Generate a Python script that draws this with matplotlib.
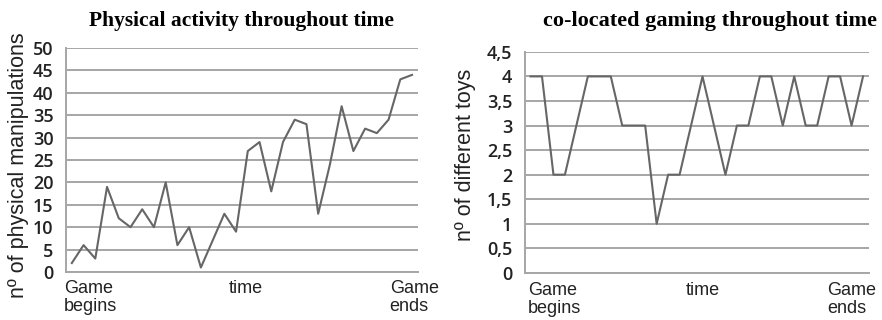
import matplotlib
matplotlib.use("Agg")
import matplotlib.pyplot as plt
import numpy as np

# manipulations per time step
manipulations = [2, 6, 3, 19, 12, 10, 14, 10, 20, 6, 10, 1, 7, 13, 9,
                 27, 29, 18, 29, 34, 33, 13, 24, 37, 27, 32, 31, 34, 43, 44]
# number of different toys per time step (right chart)
toys = [4, 4, 2, 2, 3, 4, 4, 4, 3, 3, 3, 1, 2, 2, 3,
        4, 3, 2, 3, 3, 4, 4, 3, 4, 3, 3, 4, 4, 3, 4]

left_ticks = [0, 5, 10, 15, 20, 25, 30, 35, 40, 45, 50]
right_ticks = [0, 0.5, 1, 1.5, 2, 2.5, 3, 3.5, 4, 4.5]

titles = ["Physical activity throughout time", "co-located gaming throughout time"]
ylabels = ["nº of physical manipulations", "nº of different toys"]

grid_col = "#a6a6a6"
line_col = "#666666"
tick_font = "Open Sans"
txt_font = "Liberation Sans"


def style_axes(ax, ticks, labels):
    ax.set_yticks(ticks)
    ax.set_yticklabels(labels, fontfamily=tick_font, fontsize=13,
                       fontweight="semibold", color="#222222")
    ax.set_ylim(ticks[0], ticks[-1])
    ax.set_xticks([])
    ax.tick_params(axis="y", length=0, pad=9)
    ax.grid(axis="y", color=grid_col, linewidth=1.4)
    ax.set_axisbelow(True)
    for s in ["top", "right"]:
        ax.spines[s].set_visible(False)
    for s in ["left", "bottom"]:
        ax.spines[s].set_color(grid_col)
        ax.spines[s].set_linewidth(1.4)


def x_texts(ax, begin_x, time_x, end_x, off):
    kw = dict(transform=ax.transAxes, va="top", fontfamily=txt_font,
              fontsize=13, linespacing=1.1, color="#222222")
    ax.text(begin_x, off, "Game\nbegins", ha="left", **kw)
    ax.text(time_x, off, "time", ha="center", **kw)
    ax.text(end_x, off, "Game\nends", ha="left", **kw)


fig = plt.figure(figsize=(8.82, 3.2), dpi=100)

ax1 = fig.add_axes([0.0748, 0.15, 0.399, 0.70])
x1 = np.arange(len(manipulations))
ax1.plot(x1, manipulations, color=line_col, linewidth=1.5)
ax1.set_xlim(-0.5, len(manipulations) - 0.5)
style_axes(ax1, left_ticks, [str(t) for t in left_ticks])
x_texts(ax1, -0.005, 0.51, 0.92, -0.035)

ax2 = fig.add_axes([0.595, 0.147, 0.390, 0.691])
x2 = np.arange(len(toys))
ax2.plot(x2, toys, color=line_col, linewidth=1.5)
ax2.set_xlim(-0.5, len(toys) - 0.5)
style_axes(ax2, right_ticks, [("%g" % t).replace(".", ",") for t in right_ticks])
x_texts(ax2, 0.01, 0.517, 0.88, -0.04)

fig.text(0.274, 0.934, titles[0], ha="center", va="center",
         fontfamily="Liberation Serif", fontweight="bold", fontsize=15.5)
fig.text(0.805, 0.934, titles[1], ha="center", va="center",
         fontfamily="Liberation Serif", fontweight="bold", fontsize=16)

fig.text(0.021, 0.485, ylabels[0], rotation=90, ha="center", va="center",
         fontfamily=txt_font, fontsize=15.5, color="#222222")
fig.text(0.528, 0.515, ylabels[1], rotation=90, ha="center", va="center",
         fontfamily=txt_font, fontsize=15.5, color="#222222")

fig.savefig("out.png", dpi=100)
